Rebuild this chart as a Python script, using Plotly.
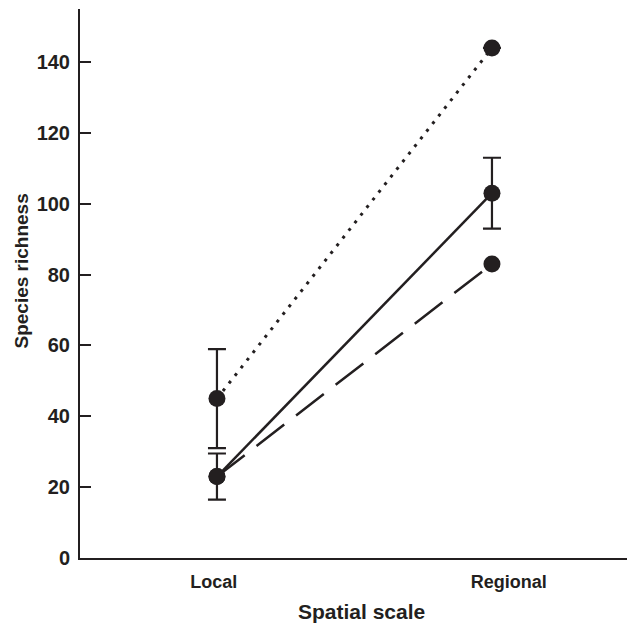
import plotly.graph_objects as go

# Data
scales = ["Local", "Regional"]
x_pos = [0, 1]
dotted_vals = [45, 144]
dotted_err = [14, 0]
solid_vals = [23, 103]
solid_err = [6.5, 10]
dashed_vals = [23, 83]

INK = "#231f20"
FONT = "Liberation Sans, Arial, sans-serif"

fig = go.Figure()

def add_series(y, dash, width, err=None):
    kw = {}
    if err is not None:
        kw["error_y"] = dict(type="data", array=err, visible=True,
                             color=INK, thickness=2.2, width=9)
    fig.add_trace(go.Scatter(
        x=x_pos, y=y, mode="lines+markers",
        line=dict(color=INK, width=width, dash=dash),
        marker=dict(color=INK, size=17, symbol="circle"),
        showlegend=False, hoverinfo="skip", **kw))

add_series(dashed_vals, "35px,15px", 2.5)
add_series(dotted_vals, "3px,6.7px", 3, dotted_err)
add_series(solid_vals, "solid", 2.5, solid_err)

fig.update_layout(
    width=627, height=623,
    margin=dict(l=80, r=0, t=9, b=65),
    paper_bgcolor="white", plot_bgcolor="white",
    font=dict(family=FONT, color=INK),
    xaxis=dict(
        range=[-0.498, 1.491], automargin=False,
        tickmode="array", tickvals=[-0.012, 1.061], ticktext=scales,
        ticks="", showgrid=False, zeroline=False,
        showline=True, linecolor=INK, linewidth=2,
        tickfont=dict(size=18, family=FONT, color=INK, weight="bold"),
        ticklabelstandoff=6,
    ),
    yaxis=dict(
        range=[0, 155], automargin=False,
        tickvals=[0, 20, 40, 60, 80, 100, 120, 140],
        ticks="inside", ticklen=11, tickwidth=1.5, tickcolor=INK,
        showgrid=False, zeroline=False,
        showline=True, linecolor=INK, linewidth=2,
        tickfont=dict(size=20, family=FONT, color=INK, weight="bold"),
        ticklabelstandoff=4,
    ),
    annotations=[
        dict(text="<b>Species richness</b>", xref="paper", yref="paper",
             x=-72/547, xanchor="left", y=(558 - 271) / 549, yanchor="middle",
             textangle=-90, showarrow=False,
             font=dict(size=19, family=FONT, color=INK)),
        dict(text="<b>Spatial scale</b>", xref="paper", yref="paper",
             x=(361 - 80) / 547, xanchor="center", y=-(611 - 558) / 549, yanchor="middle",
             showarrow=False,
             font=dict(size=21, family=FONT, color=INK)),
    ],
)

fig.write_html("out.html", config={"displayModeBar": False},
               post_script="document.body.style.margin='0';document.body.style.overflow='hidden';")
